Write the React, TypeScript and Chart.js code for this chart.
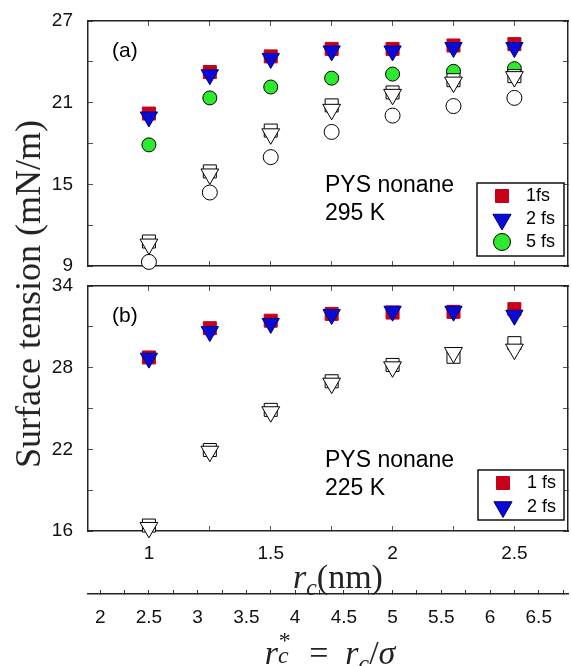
import React, { useEffect, useRef } from 'react';
import { Chart, registerables } from 'chart.js';
Chart.register(...registerables);

// ---- data ----
const rc = [1, 1.25, 1.5, 1.75, 2, 2.25, 2.5];
const sigma = 0.4;
const xMin = 0.75;
const xMax = 2.72;
const xTicks = [1, 1.25, 1.5, 1.75, 2, 2.25, 2.5];
const xLabels = [1, 1.5, 2, 2.5];
const rStarTicks = [2, 2.25, 2.5, 2.75, 3, 3.25, 3.5, 3.75, 4, 4.25, 4.5, 4.75, 5, 5.25, 5.5, 5.75, 6, 6.25, 6.5, 6.75];
const rStarLabels = [2, 2.5, 3, 3.5, 4, 4.5, 5, 5.5, 6, 6.5];

const yTicksA = [9, 12, 15, 18, 21, 24, 27];
const yLabelsA = [9, 15, 21, 27];
const yTicksB = [16, 19, 22, 25, 28, 31, 34];
const yLabelsB = [16, 22, 28, 34];

// panel (a) 295 K
const a1fs = [20.2, 23.25, 24.4, 24.95, 24.95, 25.2, 25.3];
const a2fs = [19.95, 23.05, 24.25, 24.8, 24.8, 25.05, 25.05];
const a5fs = [17.9, 21.35, 22.15, 22.8, 23.1, 23.3, 23.5];
const a1fsOpen = [10.8, 15.95, 18.95, 20.8, 21.75, 22.65, 22.95];
const a2fsOpen = [10.6, 15.75, 18.7, 20.5, 21.6, 22.5, 22.9];
const a5fsOpen = [9.3, 14.4, 17.0, 18.85, 20.05, 20.75, 21.35];

// panel (b) 225 K
const b1fs = [28.75, 30.9, 31.45, 31.95, 32.05, 32.1, 32.3];
const b2fs = [28.7, 30.65, 31.25, 31.9, 32.15, 32.15, 31.85];
const b1fsOpen = [16.4, 21.95, 24.9, 27.0, 28.2, 28.8, 29.8];
const b2fsOpen = [16.25, 21.85, 24.75, 26.85, 28.05, 29.1, 29.35];

// ---- styles ----
const RED = '#c8001a';
const BLUE = '#0a0ad8';
const GREEN = '#2eea2e';
const SANS = "'Liberation Sans', Arial, sans-serif";
const SERIF = "'Liberation Serif', 'Times New Roman', serif";

const styles: Record<string, any> = {
  sq: { pointStyle: 'rect', pointRadius: 9.2, backgroundColor: RED, borderColor: RED, borderWidth: 1 },
  tri: { pointStyle: 'triangle', pointRotation: 180, pointRadius: 10, backgroundColor: BLUE, borderColor: '#00007a', borderWidth: 1 },
  circ: { pointStyle: 'circle', pointRadius: 7, backgroundColor: GREEN, borderColor: '#000', borderWidth: 1 },
  sqO: { pointStyle: 'rect', pointRadius: 9.2, backgroundColor: '#fff', borderColor: '#000', borderWidth: 1 },
  triO: { pointStyle: 'triangle', pointRotation: 180, pointRadius: 10.3, backgroundColor: '#fff', borderColor: '#000', borderWidth: 1 },
  circO: { pointStyle: 'circle', pointRadius: 7.5, backgroundColor: '#fff', borderColor: '#000', borderWidth: 1 },
};

function ds(label: string, ys: number[], style: string, order: number) {
  const s = styles[style];
  return {
    label,
    data: rc.map((x, i) => ({ x, y: ys[i] })),
    showLine: false,
    clip: false,
    order,
    ...s,
    pointHoverRadius: s.pointRadius,
  };
}

const setTicks = (arr: number[]) => (scale: any) => {
  scale.ticks = arr.map((v) => ({ value: v }));
};
const labelIf = (arr: number[]) => (v: any) => (arr.some((a) => Math.abs(a - v) < 1e-6) ? String(v) : '');
const noPad = (s: any) => {
  s.paddingTop = 0;
  s.paddingBottom = 0;
  s.paddingLeft = 0;
  s.paddingRight = 0;
};

const tickFont = { family: SANS, size: 19 };
const borderOpt = { display: true, color: '#222', width: 1.5 };
const gridOpt = { drawOnChartArea: false, drawTicks: true, tickLength: -5, color: '#555', tickWidth: 1 };

function yAxes(min: number, max: number, ticks: number[], labels: number[]) {
  return {
    y: {
      type: 'linear', position: 'left', min, max,
      afterBuildTicks: setTicks(ticks),
      ticks: { callback: labelIf(labels), font: tickFont, color: '#111', padding: 20, autoSkip: false },
      grid: gridOpt, border: borderOpt,
      afterFit: (s: any) => { s.width = 88; noPad(s); },
    },
    yR: {
      type: 'linear', position: 'right', min, max,
      afterBuildTicks: setTicks(ticks),
      ticks: { display: false },
      grid: gridOpt, border: borderOpt,
      afterFit: (s: any) => { s.width = 0; noPad(s); },
    },
  };
}

const xTopAxis = {
  type: 'linear', position: 'top', min: xMin, max: xMax,
  afterBuildTicks: setTicks(xTicks),
  ticks: { display: false },
  grid: gridOpt, border: borderOpt,
  afterFit: (s: any) => { s.height = 0; noPad(s); },
};

type LegendItem = { style: string; text: string };

const decorPlugin = {
  id: 'decor',
  afterDatasetsDraw(chart: any, _args: any, opts: any) {
    const { ctx, chartArea: ca } = chart;
    ctx.save();
    ctx.fillStyle = '#000';
    ctx.textBaseline = 'middle';
    ctx.textAlign = 'left';
    for (const t of opts.texts || []) {
      ctx.font = t.font;
      ctx.fillText(t.text, ca.left + t.dx, ca.top + t.dy);
    }
    const L = opts.legend;
    if (L) {
      const x0 = ca.right - L.right - L.w;
      const y0 = ca.bottom - L.bottom - L.h;
      ctx.fillStyle = '#fff';
      ctx.fillRect(x0, y0, L.w, L.h);
      ctx.strokeStyle = '#111';
      ctx.lineWidth = 1.5;
      ctx.strokeRect(x0, y0, L.w, L.h);
      L.items.forEach((it: LegendItem, i: number) => {
        const cx = x0 + 25;
        const cy = y0 + L.ys[i];
        const s = styles[it.style];
        ctx.fillStyle = s.backgroundColor;
        ctx.strokeStyle = s.borderColor;
        ctx.lineWidth = 1;
        ctx.beginPath();
        if (s.pointStyle === 'rect') {
          ctx.rect(cx - 6.5, cy - 6.5, 13, 13);
        } else if (s.pointStyle === 'triangle') {
          const r = 10.5;
          ctx.moveTo(cx, cy + r);
          ctx.lineTo(cx - r * 0.866, cy - r * 0.5);
          ctx.lineTo(cx + r * 0.866, cy - r * 0.5);
          ctx.closePath();
        } else {
          ctx.arc(cx, cy, 8.5, 0, Math.PI * 2);
        }
        ctx.fill();
        ctx.stroke();
        ctx.fillStyle = '#000';
        ctx.font = `18px ${SANS}`;
        ctx.fillText(it.text, x0 + 49, cy);
      });
    }
    ctx.restore();
  },
};

const commonOpts = {
  animation: false,
  responsive: false,
  maintainAspectRatio: false,
  events: [],
};

function configA(): any {
  return {
    type: 'scatter',
    data: {
      datasets: [
        ds('1fs', a1fs, 'sq', 6),
        ds('2 fs', a2fs, 'tri', 5),
        ds('5 fs', a5fs, 'circ', 4),
        ds('1fs open', a1fsOpen, 'sqO', 3),
        ds('2 fs open', a2fsOpen, 'triO', 2),
        ds('5 fs open', a5fsOpen, 'circO', 1),
      ],
    },
    options: {
      ...commonOpts,
      layout: { autoPadding: false, padding: { top: 21, right: 3, left: 0, bottom: 0 } },
      plugins: {
        legend: { display: false },
        tooltip: { enabled: false },
        decor: {
          texts: [
            { text: '(a)', dx: 24, dy: 30, font: `21px ${SANS}` },
            { text: 'PYS nonane', dx: 237, dy: 165, font: `23px ${SANS}` },
            { text: '295 K', dx: 237, dy: 193, font: `23px ${SANS}` },
          ],
          legend: {
            right: 4, bottom: 10, w: 87, h: 73, ys: [13, 36.5, 59],
            items: [
              { style: 'sq', text: '1fs' },
              { style: 'tri', text: '2 fs' },
              { style: 'circ', text: '5 fs' },
            ],
          },
        },
      },
      scales: {
        x: {
          type: 'linear', position: 'bottom', min: xMin, max: xMax,
          afterBuildTicks: setTicks(xTicks),
          ticks: { display: false },
          grid: gridOpt, border: borderOpt,
          afterFit: (s: any) => { s.height = 14; noPad(s); },
        },
        xT: xTopAxis,
        ...yAxes(9, 27, yTicksA, yLabelsA),
      },
    },
    plugins: [decorPlugin],
  };
}

function configB(): any {
  return {
    type: 'scatter',
    data: {
      datasets: [
        ds('1 fs', b1fs, 'sq', 4),
        ds('2 fs', b2fs, 'tri', 3),
        ds('1 fs open', b1fsOpen, 'sqO', 2),
        ds('2 fs open', b2fsOpen, 'triO', 1),
      ],
    },
    options: {
      ...commonOpts,
      layout: { autoPadding: false, padding: { top: 16, right: 3, left: 0, bottom: 0 } },
      plugins: {
        legend: { display: false },
        tooltip: { enabled: false },
        decor: {
          texts: [
            { text: '(b)', dx: 24, dy: 30, font: `21px ${SANS}` },
            { text: 'PYS nonane', dx: 237, dy: 175, font: `23px ${SANS}` },
            { text: '225 K', dx: 237, dy: 203, font: `23px ${SANS}` },
          ],
          legend: {
            right: 4, bottom: 11, w: 86, h: 50, ys: [13, 37],
            items: [
              { style: 'sq', text: '1 fs' },
              { style: 'tri', text: '2 fs' },
            ],
          },
        },
      },
      scales: {
        x: {
          type: 'linear', position: 'bottom', min: xMin, max: xMax, weight: 0,
          afterBuildTicks: setTicks(xTicks),
          ticks: { callback: labelIf(xLabels), font: tickFont, color: '#111', padding: 16, autoSkip: false, maxRotation: 0 },
          grid: gridOpt, border: borderOpt,
          afterFit: (s: any) => { s.height = 63; noPad(s); },
        },
        x2: {
          type: 'linear', position: 'bottom', min: xMin / sigma, max: xMax / sigma, weight: 1,
          afterBuildTicks: setTicks(rStarTicks),
          ticks: { callback: labelIf(rStarLabels), font: tickFont, color: '#111', padding: 16, autoSkip: false, maxRotation: 0 },
          grid: { drawOnChartArea: false, drawTicks: true, tickLength: -4, color: '#333', tickWidth: 1 },
          border: borderOpt,
          afterFit: (s: any) => { s.height = 72; noPad(s); },
        },
        xT: xTopAxis,
        ...yAxes(16, 34, yTicksB, yLabelsB),
      },
    },
    plugins: [decorPlugin],
  };
}

export default function App() {
  const refA = useRef<HTMLCanvasElement>(null);
  const refB = useRef<HTMLCanvasElement>(null);
  useEffect(() => {
    document.body.style.margin = '0';
    const a = new Chart(refA.current as HTMLCanvasElement, configA());
    const b = new Chart(refB.current as HTMLCanvasElement, configB());
    return () => {
      a.destroy();
      b.destroy();
    };
  }, []);

  const serif: React.CSSProperties = { position: 'absolute', fontFamily: SERIF, color: '#222', whiteSpace: 'nowrap', lineHeight: 1 };

  return (
    <div style={{ position: 'absolute', left: 0, top: 0, width: 571, height: 666, background: '#fff', overflow: 'hidden' }}>
      <canvas ref={refA} width={571} height={280} style={{ position: 'absolute', left: 0, top: 0, width: 571, height: 280 }} />
      <canvas ref={refB} width={571} height={396} style={{ position: 'absolute', left: 0, top: 270, width: 571, height: 396 }} />
      <div style={{ ...serif, left: 28, top: 294, fontSize: 36, transform: 'translate(-50%, -50%) rotate(-90deg)' }}>
        Surface tension (mN/m)
      </div>
      <div style={{ ...serif, left: 338, top: 577, fontSize: 34, transform: 'translate(-50%, -50%)' }}>
        <i>r</i>
        <span style={{ fontSize: '0.7em', position: 'relative', top: '0.3em' }}><i>c</i></span>
        (nm)
      </div>
      <div style={{ ...serif, left: 330, top: 650, fontSize: 34, transform: 'translate(-50%, -50%)' }}>
        <i>r</i>
        <span style={{ display: 'inline-block', position: 'relative', width: '0.42em', height: '1em' }}>
          <span style={{ position: 'absolute', left: '0.04em', top: '-0.06em', fontSize: '0.7em' }}>*</span>
          <span style={{ position: 'absolute', left: 0, top: '0.58em', fontSize: '0.7em' }}><i>c</i></span>
        </span>
        {'\u2002=\u2002'}
        <i>r</i>
        <span style={{ fontSize: '0.7em', position: 'relative', top: '0.3em' }}><i>c</i></span>
        /<i>σ</i>
      </div>
    </div>
  );
}
